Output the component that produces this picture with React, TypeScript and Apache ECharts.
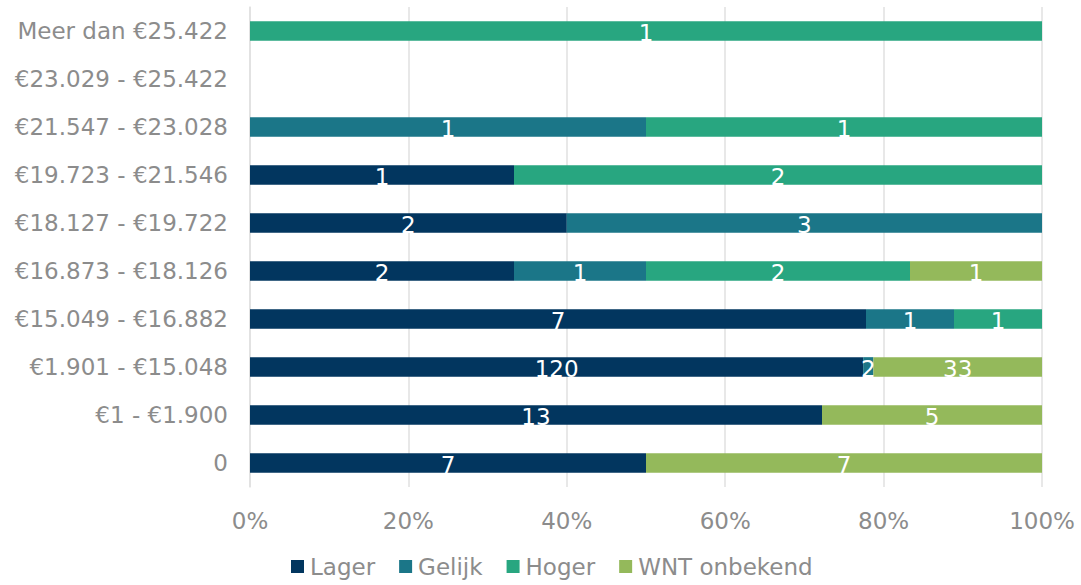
import React, { useEffect, useRef } from "react";
import * as echarts from "echarts";

const categories = [
  "0",
  "€1 - €1.900",
  "€1.901 - €15.048",
  "€15.049 - €16.882",
  "€16.873 - €18.126",
  "€18.127 - €19.722",
  "€19.723 - €21.546",
  "€21.547 - €23.028",
  "€23.029 - €25.422",
  "Meer dan €25.422",
];
const lager = [7, 13, 120, 7, 2, 2, 1, 0, 0, 0];
const gelijk = [0, 0, 2, 1, 1, 3, 0, 1, 0, 0];
const hoger = [0, 0, 0, 1, 2, 0, 2, 1, 0, 1];
const wntOnbekend = [7, 5, 33, 0, 1, 0, 0, 0, 0, 0];

const seriesDefs = [
  { name: "Lager", data: lager, color: "#02365f" },
  { name: "Gelijk", data: gelijk, color: "#1b7688" },
  { name: "Hoger", data: hoger, color: "#28a680" },
  { name: "WNT onbekend", data: wntOnbekend, color: "#94b95b" },
];

const FONT = "DejaVu Sans, Verdana, sans-serif";
const GREY = "#8c8c8c";
const FS = 23;

export default function App() {
  const ref = useRef<HTMLDivElement>(null);
  useEffect(() => {
    if (!ref.current) return;
    const chart = echarts.init(ref.current, null, { renderer: "svg" });
    const totals = categories.map((_, i) =>
      seriesDefs.reduce((s, d) => s + d.data[i], 0)
    );
    chart.setOption({
      animation: false,
      textStyle: { fontFamily: FONT },
      grid: { left: 250, right: 39, top: 7, bottom: 98, containLabel: false },
      legend: {
        bottom: 2,
        left: 286,
        itemWidth: 13,
        itemHeight: 13,
        itemGap: 24,
        icon: "rect",
        textStyle: { color: GREY, fontSize: FS, fontFamily: FONT, padding: [0, 0, 0, 1] },
        data: seriesDefs.map((d) => d.name),
      },
      xAxis: {
        type: "value",
        min: 0,
        max: 100,
        interval: 20,
        axisLine: { show: false },
        axisTick: { show: false },
        splitLine: { show: true, lineStyle: { color: "#e0e0e0", width: 1.5 } },
        axisLabel: {
          color: GREY,
          fontSize: FS,
          fontFamily: FONT,
          margin: 22,
          formatter: "{value}%",
        },
      },
      yAxis: {
        type: "category",
        data: categories,
        axisLine: { show: true, lineStyle: { color: "#e0e0e0", width: 1.5 } },
        axisTick: { show: false },
        axisLabel: { color: GREY, fontSize: FS, fontFamily: FONT, margin: 22 },
      },
      series: seriesDefs.map((d) => ({
        name: d.name,
        type: "bar",
        stack: "total",
        barWidth: "41%",
        itemStyle: { color: d.color },
        data: d.data.map((v, i) =>
          totals[i] ? { value: (v / totals[i]) * 100, raw: v } : { value: 0, raw: 0 }
        ),
        label: {
          show: true,
          position: "inside",
          color: "#ffffff",
          fontSize: FS,
          fontFamily: FONT,
          offset: [0, 2],
          formatter: (p: any) => (p.data.raw ? String(p.data.raw) : ""),
        },
      })),
    });
    return () => chart.dispose();
  }, []);
  return <div ref={ref} style={{ width: 1081, height: 585, position: "absolute", left: 0, top: 0 }} />;
}
